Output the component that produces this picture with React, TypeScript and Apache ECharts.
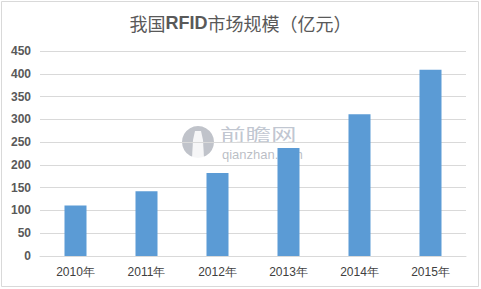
import React, { useEffect, useRef } from "react";
import * as echarts from "echarts";

const categories = ["2010年", "2011年", "2012年", "2013年", "2014年", "2015年"];
const marketSize = [111, 142, 182, 237, 311, 409];
const yTicks = [0, 50, 100, 150, 200, 250, 300, 350, 400, 450];

export default function App() {
  const ref = useRef<HTMLDivElement>(null);
  useEffect(() => {
    document.body.style.margin = "0";
    const chart = echarts.init(ref.current!, null, { renderer: "svg" });
    chart.setOption({
      animation: false,
      backgroundColor: "#ffffff",
      title: {
        text: "{a|我国}{b|RFID}{a|市场规模（亿元）}",
        left: "center",
        top: 9,
        textStyle: {
          fontWeight: "normal",
          rich: {
            a: { fontSize: 18, color: "#595959", fontWeight: "normal", fontFamily: "Noto Sans CJK SC" },
            b: { fontSize: 18, color: "#595959", fontWeight: "bold", fontFamily: "Liberation Sans" },
          },
        },
      },
      grid: { left: 40, right: 15, top: 51, bottom: 33 },
      xAxis: {
        type: "category",
        data: categories,
        axisLine: { lineStyle: { color: "#d9d9d9" } },
        axisTick: { show: false },
        axisLabel: { color: "#404040", fontSize: 12, margin: 10, fontFamily: "Liberation Sans" },
      },
      yAxis: {
        type: "value",
        min: yTicks[0],
        max: yTicks[yTicks.length - 1],
        interval: 50,
        axisLine: { show: false },
        axisTick: { show: false },
        splitLine: { lineStyle: { color: "#d9d9d9" } },
        axisLabel: { color: "#595959", fontSize: 12, fontWeight: "bold", margin: 9, fontFamily: "Liberation Sans" },
      },
      series: [
        {
          type: "bar",
          data: marketSize,
          barWidth: "31%",
          itemStyle: { color: "#5b9bd5" },
          z: 3,
        },
      ],
      graphic: [
        {
          type: "rect",
          shape: { x: 1.5, y: 1.5, width: 477, height: 285 },
          style: { fill: "none", stroke: "#d9d9d9", lineWidth: 1 },
          silent: true,
        },
        {
          type: "group",
          z: 10,
          silent: true,
          children: [
            {
              type: "circle",
              shape: { cx: 198, cy: 142, r: 16 },
              style: { fill: "rgba(140,146,158,0.55)" },
            },
            {
              type: "polygon",
              shape: { points: [[195, 131], [201, 131], [203, 140], [204, 158], [192, 158], [193, 140]] },
              style: { fill: "rgba(255,255,255,0.85)" },
            },
            {
              type: "text",
              x: 220,
              y: 125,
              scaleX: 1.5,
              style: {
                text: "前瞻网",
                fontSize: 17,
                lineHeight: 18,
                fill: "rgba(140,150,170,0.55)",
                fontFamily: "Noto Sans CJK SC",
                verticalAlign: "top",
              },
            },
            {
              type: "text",
              x: 222,
              y: 148,
              style: {
                text: "qianzhan.com",
                fontSize: 13,
                lineHeight: 13,
                fill: "rgba(140,146,158,0.6)",
                fontFamily: "Liberation Sans",
                verticalAlign: "top",
              },
            },
          ],
        },
      ],
    });
    return () => chart.dispose();
  }, []);
  return <div ref={ref} style={{ width: 481, height: 289 }} />;
}
